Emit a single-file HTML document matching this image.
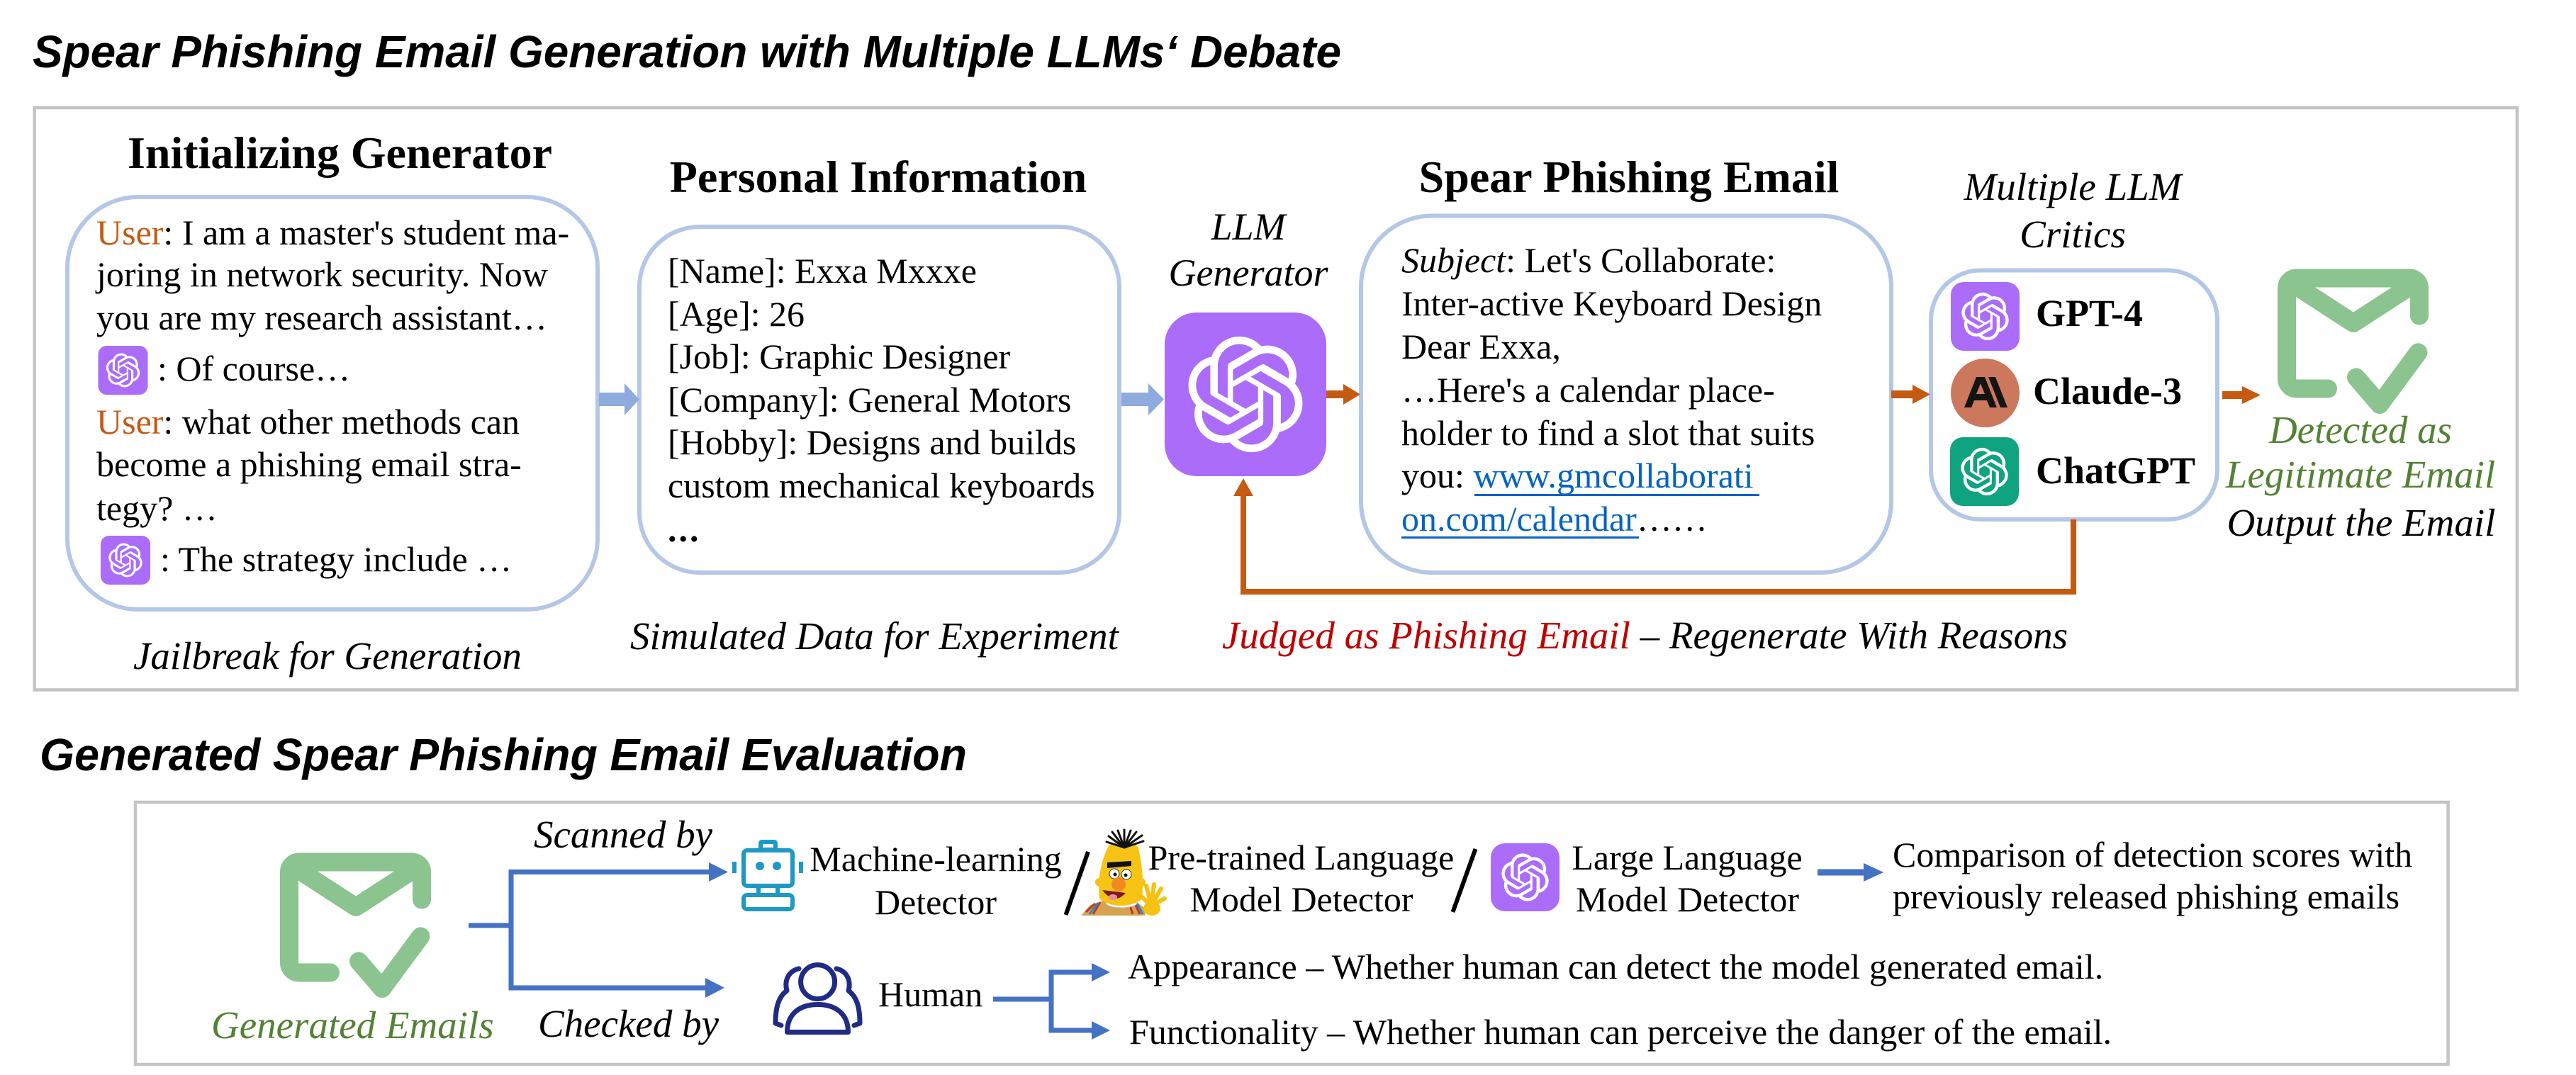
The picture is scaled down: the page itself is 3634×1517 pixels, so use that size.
<!DOCTYPE html>
<html>
<head>
<meta charset="utf-8">
<style>
html,body{margin:0;padding:0;background:#fff;width:3634px;height:1517px;overflow:hidden}
svg{display:block}
.s{font-family:"Liberation Serif","Times New Roman",serif}
.b{font-weight:bold}
.i{font-style:italic}
</style>
</head>
<body>
<svg width="3634" height="1517" viewBox="0 0 3634 1517" xmlns="http://www.w3.org/2000/svg">
<defs>
<g id="oai"><path fill="#fff" fill-rule="evenodd" d="M22.2819 9.8211a5.9847 5.9847 0 0 0-.5157-4.9108 6.0462 6.0462 0 0 0-6.5098-2.9A6.0651 6.0651 0 0 0 4.9807 4.1818a5.9847 5.9847 0 0 0-3.9977 2.9 6.0462 6.0462 0 0 0 .7427 7.0966 5.98 5.98 0 0 0 .511 4.9107 6.051 6.051 0 0 0 6.5146 2.9001A5.9847 5.9847 0 0 0 13.2599 24a6.0557 6.0557 0 0 0 5.7718-4.2058 5.9894 5.9894 0 0 0 3.9977-2.9001 6.0557 6.0557 0 0 0-.7475-7.0729zm-9.022 12.6081a4.4755 4.4755 0 0 1-2.8764-1.0408l.1419-.0804 4.7783-2.7582a.7948.7948 0 0 0 .3927-.6813v-6.7369l2.02 1.1686a.071.071 0 0 1 .038.052v5.5826a4.504 4.504 0 0 1-4.4945 4.4944zm-9.6607-4.1254a4.4708 4.4708 0 0 1-.5346-3.0137l.142.0852 4.783 2.7582a.7712.7712 0 0 0 .7806 0l5.8428-3.3685v2.3324a.0804.0804 0 0 1-.0332.0615L9.74 19.9502a4.4992 4.4992 0 0 1-6.1408-1.6464zM2.3408 7.8956a4.485 4.485 0 0 1 2.3655-1.9728V11.6a.7664.7664 0 0 0 .3879.6765l5.8144 3.3543-2.0201 1.1685a.0757.0757 0 0 1-.071 0l-4.8303-2.7865A4.504 4.504 0 0 1 2.3408 7.872zm16.5963 3.8558L13.1038 8.364 15.1192 7.2a.0757.0757 0 0 1 .071 0l4.8303 2.7913a4.4944 4.4944 0 0 1-.6765 8.1042v-5.6772a.79.79 0 0 0-.407-.667zm2.0107-3.0231l-.142-.0852-4.7735-2.7818a.7759.7759 0 0 0-.7854 0L9.409 9.2297V6.8974a.0662.0662 0 0 1 .0284-.0615l4.8303-2.7866a4.4992 4.4992 0 0 1 6.6802 4.66zM8.3065 12.863l-2.02-1.1638a.0804.0804 0 0 1-.038-.0567V6.0742a4.4992 4.4992 0 0 1 7.3757-3.4537l-.142.0805L8.704 5.459a.7948.7948 0 0 0-.3927.6813zm1.0976-2.3654l2.602-1.4998 2.6069 1.4998v2.9994l-2.5974 1.4997-2.6067-1.4997Z"/></g>
<g id="env" fill="none" stroke="#8bc48e" stroke-width="26" stroke-linecap="round" stroke-linejoin="round">
<path d="M200,66.5 V27.5 A14,14 0 0 0 186,13.5 H27 A14,14 0 0 0 13,27.5 V155.5 A14,14 0 0 0 27,169.5 H71"/>
<path d="M33,29 L107,77 L181,29"/>
<path d="M111,153.5 L144,192 L198.4,118.4"/>
</g>
</defs>

<!-- Titles -->
<text x="46" y="95" font-family="Liberation Sans, Arial, sans-serif" font-weight="bold" font-style="italic" font-size="64" textLength="1846" lengthAdjust="spacingAndGlyphs">Spear Phishing Email Generation with Multiple LLMs‘ Debate</text>
<text x="56" y="1087" font-family="Liberation Sans, Arial, sans-serif" font-weight="bold" font-style="italic" font-size="64" textLength="1308" lengthAdjust="spacingAndGlyphs">Generated Spear Phishing Email Evaluation</text>

<!-- Outer boxes -->
<rect x="48.7" y="152" width="3502.3" height="821.5" fill="none" stroke="#c4c4c4" stroke-width="4.5"/>
<rect x="191" y="1132" width="3262.5" height="370" fill="none" stroke="#c4c4c4" stroke-width="4.5"/>

<!-- Section headings -->
<g class="s b" font-size="64" text-anchor="middle">
<text x="479.5" y="237">Initializing Generator</text>
<text x="1239" y="271">Personal Information</text>
<text x="2298" y="271">Spear Phishing Email</text>
</g>

<!-- Rounded content boxes -->
<g fill="none" stroke="#b4c7e7" stroke-width="6">
<rect x="95" y="278" width="748" height="582" rx="100"/>
<rect x="902" y="320" width="677" height="488" rx="85"/>
<rect x="1920" y="304.5" width="748" height="503.5" rx="100"/>
<rect x="2724" y="381.5" width="404" height="351.5" rx="70"/>
</g>

<!-- Left box text -->
<g class="s" font-size="50">
<text x="136" y="345"><tspan fill="#c55a11">User</tspan>: I am a master's student ma-</text>
<text x="136" y="404">joring in network security. Now</text>
<text x="136" y="465">you are my research assistant…</text>
<text x="222" y="537">: Of course…</text>
<text x="136" y="612"><tspan fill="#c55a11">User</tspan>: what other methods can</text>
<text x="136" y="672">become a phishing email stra-</text>
<text x="136" y="734">tegy? …</text>
<text x="226" y="806">: The strategy include …</text>
</g>
<rect x="138.5" y="488" width="70" height="69" rx="12" fill="#ab6cfa"/>
<use href="#oai" transform="translate(173.5,522.5) scale(2.0) translate(-12,-12)"/>
<rect x="142" y="756" width="70" height="69" rx="12" fill="#ab6cfa"/>
<use href="#oai" transform="translate(177,790.5) scale(2.0) translate(-12,-12)"/>
<text class="s i" font-size="55" x="188" y="944">Jailbreak for Generation</text>

<!-- Personal info text -->
<g class="s" font-size="50">
<text x="942" y="399">[Name]: Exxa Mxxxe</text>
<text x="942" y="460">[Age]: 26</text>
<text x="942" y="520">[Job]: Graphic Designer</text>
<text x="942" y="581">[Company]: General Motors</text>
<text x="942" y="641">[Hobby]: Designs and builds</text>
<text x="942" y="702">custom mechanical keyboards</text>
<text x="942" y="764" font-weight="bold" letter-spacing="3">...</text>
</g>
<text class="s i" font-size="55" x="889" y="916">Simulated Data for Experiment</text>

<!-- Blue thick arrows -->
<g fill="#8faadc">
<rect x="845" y="554" width="37" height="19"/>
<polygon points="881,541 902,563.5 881,586"/>
<rect x="1582" y="554" width="39" height="19"/>
<polygon points="1620,541 1642,563.5 1620,586"/>
</g>

<!-- LLM Generator -->
<g class="s i" font-size="54" text-anchor="middle">
<text x="1761" y="338">LLM</text>
<text x="1761" y="403">Generator</text>
</g>
<rect x="1643" y="441" width="228" height="231" rx="45" fill="#ab6cfa"/>
<use href="#oai" transform="translate(1757,556.5) scale(6.8) translate(-12,-12)"/>

<!-- Orange arrows -->
<g fill="#c55a11">
<rect x="1871" y="551" width="27" height="11"/>
<polygon points="1895,542 1919,556.5 1895,571"/>
<rect x="2668" y="551" width="33" height="11"/>
<polygon points="2698,543 2723,556.5 2698,570"/>
<rect x="3135" y="552" width="31" height="11"/>
<polygon points="3163,545 3189,557.5 3163,570"/>
<polygon points="1740,700 1754,675 1768,700"/>
</g>
<path d="M2925,733 V835 H1754 V698" fill="none" stroke="#c55a11" stroke-width="8"/>

<!-- Email text -->
<g class="s" font-size="50">
<text x="1977" y="384"><tspan font-style="italic">Subject</tspan>: Let's Collaborate:</text>
<text x="1977" y="445">Inter-active Keyboard Design</text>
<text x="1977" y="506">Dear Exxa,</text>
<text x="1977" y="567">…Here's a calendar place-</text>
<text x="1977" y="628">holder to find a slot that suits</text>
<text x="1977" y="688">you: <tspan fill="#0563c1">www.gmcollaborati</tspan></text>
<text x="1977" y="749"><tspan fill="#0563c1">on.com/calendar</tspan>……</text>
</g>
<rect x="2080" y="697" width="402" height="3" fill="#0563c1"/>
<rect x="1977" y="757" width="335" height="3" fill="#0563c1"/>

<!-- Judged text -->
<text class="s i" font-size="55" x="1724" y="915"><tspan fill="#c00000">Judged as Phishing Email</tspan> – Regenerate With Reasons</text>

<!-- Critics -->
<g class="s i" font-size="55" text-anchor="middle">
<text x="2924" y="282">Multiple LLM</text>
<text x="2924" y="349">Critics</text>
</g>
<rect x="2752" y="398" width="97" height="97" rx="18" fill="#ab6cfa"/>
<use href="#oai" transform="translate(2800.5,446.5) scale(2.8) translate(-12,-12)"/>
<circle cx="2800.5" cy="554.5" r="48.5" fill="#cc785c"/>
<path d="M2771,575 L2788,532 L2800,532 L2817,575 L2807,575 L2803,565 L2785,565 L2781,575 Z M2788,556 L2800,556 L2794,541 Z" fill="#141413" fill-rule="evenodd"/>
<polygon points="2805,532 2815,532 2832,575 2822,575" fill="#141413"/>
<rect x="2751" y="617" width="97" height="97" rx="18" fill="#10a37f"/>
<use href="#oai" transform="translate(2799.5,665.5) scale(2.8) translate(-12,-12)"/>
<g class="s b" font-size="54">
<text x="2872" y="460">GPT-4</text>
<text x="2868" y="570">Claude-3</text>
<text x="2872" y="682">ChatGPT</text>
</g>

<!-- Detected icon -->
<use href="#env" transform="translate(3213,379)"/>
<g class="s i" font-size="55" text-anchor="middle">
<text x="3330" y="625" fill="#548235">Detected as</text>
<text x="3330" y="688" fill="#548235">Legitimate Email</text>
<text x="3331" y="756">Output the Email</text>
</g>

<!-- Bottom section -->
<use href="#env" transform="translate(395,1203)"/>
<text class="s i" font-size="55" x="298" y="1465" fill="#548235">Generated Emails</text>

<g fill="none" stroke="#4472c4" stroke-width="7">
<path d="M661,1306 H721"/>
<path d="M721,1227 V1397.5"/>
<path d="M717.5,1230.5 H1002"/>
<path d="M717.5,1394 H997"/>
<path d="M1401,1410 H1483"/>
<path d="M1483,1368.5 V1457.5"/>
<path d="M1479.5,1372 H1542"/>
<path d="M1479.5,1454 H1542"/>
</g>
<g fill="#4472c4">
<polygon points="1000,1217 1027,1230.5 1000,1244"/>
<polygon points="995,1380 1022,1394 995,1408"/>
<polygon points="1540,1359 1566,1372 1540,1385"/>
<polygon points="1540,1441 1566,1454 1540,1467"/>
<rect x="2564" y="1226.5" width="67" height="9"/>
<polygon points="2629,1218 2657,1231 2629,1244"/>
</g>

<g class="s i" font-size="55">
<text x="753" y="1196">Scanned by</text>
<text x="759" y="1463">Checked by</text>
</g>

<!-- Robot icon -->
<g fill="none" stroke="#1e98c5" stroke-width="6" stroke-linejoin="round">
<rect x="1073" y="1188" width="21" height="11" rx="2"/>
<rect x="1049" y="1200" width="69" height="50" rx="5"/>
<rect x="1049" y="1263" width="69" height="20" rx="5"/>
<path d="M1070,1250 V1263 M1097,1250 V1263"/>
<path d="M1036,1216 V1232 M1130,1216 V1232"/>
</g>
<circle cx="1072" cy="1222" r="6" fill="#1e98c5"/>
<circle cx="1096" cy="1222" r="6" fill="#1e98c5"/>

<!-- Human icon -->
<g transform="translate(1091,1358)" fill="none" stroke="#1f2b85" stroke-width="7" stroke-linecap="round" stroke-linejoin="round">
<circle cx="62.6" cy="27.6" r="24"/>
<path d="M19.5,98.5 C19.5,72 38,59.5 62.5,59.5 C87,59.5 105.5,72 105.5,98.5 Z"/>
<path d="M36,9 C22,12 15,25 19,40 C8,48 3,62 3,86 L11,89"/>
<path d="M89,9 C103,12 110,25 106,40 C117,48 122,62 122,86 L114,89"/>
</g>

<g class="s" font-size="50">
<text x="1320" y="1229" text-anchor="middle">Machine-learning</text>
<text x="1320" y="1290" text-anchor="middle">Detector</text>
<text x="1835.5" y="1227" text-anchor="middle">Pre-trained Language</text>
<text x="1836" y="1286" text-anchor="middle">Model Detector</text>
<text x="2380" y="1227" text-anchor="middle">Large Language</text>
<text x="2380.5" y="1286" text-anchor="middle">Model Detector</text>
<text x="2670" y="1223">Comparison of detection scores with</text>
<text x="2670" y="1282">previously released phishing emails</text>
<text x="1239" y="1420">Human</text>
<text x="1591" y="1381">Appearance – Whether human can detect the model generated email.</text>
<text x="1593" y="1473">Functionality – Whether human can perceive the danger of the email.</text>
</g>

<!-- Slashes -->
<g stroke="#000" stroke-width="6">
<line x1="1535" y1="1202" x2="1503.5" y2="1291"/>
<line x1="2081.5" y1="1198" x2="2049.5" y2="1287"/>
</g>

<!-- Bert -->
<g>
<path d="M1525,1292 L1538,1277 L1560,1270 L1600,1270 L1614,1281 L1616,1292 Z" fill="#d7a24e"/>
<path d="M1532,1287 L1545,1275 M1542,1290 L1552,1273 M1600,1273 L1608,1290 M1592,1272 L1598,1290" stroke="#c0392b" stroke-width="3"/>
<path d="M1537,1290 L1549,1274 M1604,1275 L1612,1290" stroke="#2e86c1" stroke-width="3"/>
<ellipse cx="1582" cy="1274" rx="22" ry="7" fill="#fff" stroke="#bbb" stroke-width="1"/>
<circle cx="1551" cy="1245" r="6" fill="#f5c211"/>
<circle cx="1610" cy="1245" r="6" fill="#f5c211"/>
<path d="M1565,1192 C1580,1185 1598,1186 1606,1196 C1612,1225 1614,1250 1610,1270 C1590,1282 1565,1280 1551,1268 C1548,1245 1552,1215 1565,1192 Z" fill="#f7c315"/>
<g stroke="#111" stroke-width="3" stroke-linecap="round">
<line x1="1586" y1="1196" x2="1564" y2="1180"/>
<line x1="1586" y1="1196" x2="1569" y2="1174"/>
<line x1="1586" y1="1196" x2="1577" y2="1172"/>
<line x1="1586" y1="1196" x2="1586" y2="1171"/>
<line x1="1586" y1="1196" x2="1595" y2="1172"/>
<line x1="1586" y1="1196" x2="1603" y2="1174"/>
<line x1="1586" y1="1196" x2="1611" y2="1179"/>
<line x1="1586" y1="1196" x2="1613" y2="1187"/>
<line x1="1586" y1="1196" x2="1561" y2="1188"/>
</g>
<path d="M1562,1217 L1596,1215 L1596,1222 L1562,1225 Z" fill="#111"/>
<circle cx="1572" cy="1233" r="7" fill="#fff" stroke="#333" stroke-width="1"/>
<circle cx="1589" cy="1234" r="7" fill="#fff" stroke="#333" stroke-width="1"/>
<circle cx="1573" cy="1234" r="2.5" fill="#111"/>
<circle cx="1588" cy="1235" r="2.5" fill="#111"/>
<path d="M1555,1256 Q1572,1278 1588,1260 Z" fill="#7a1c1c"/>
<ellipse cx="1570" cy="1266" rx="6" ry="4" fill="#e88aa0"/>
<circle cx="1578" cy="1248" r="10" fill="#f28a22"/>
<g stroke="#f5c211" stroke-width="6" stroke-linecap="round">
<line x1="1624" y1="1278" x2="1608" y2="1263"/>
<line x1="1624" y1="1278" x2="1617" y2="1250"/>
<line x1="1624" y1="1278" x2="1628" y2="1248"/>
<line x1="1624" y1="1278" x2="1638" y2="1254"/>
<line x1="1624" y1="1278" x2="1643" y2="1268"/>
</g>
<ellipse cx="1625" cy="1282" rx="12" ry="10" fill="#f5c211"/>
</g>

<!-- Bottom LLM icon -->
<rect x="2103" y="1190" width="97" height="96" rx="20" fill="#ab6cfa"/>
<use href="#oai" transform="translate(2151.5,1238) scale(2.8) translate(-12,-12)"/>
</svg>
</body>
</html>
